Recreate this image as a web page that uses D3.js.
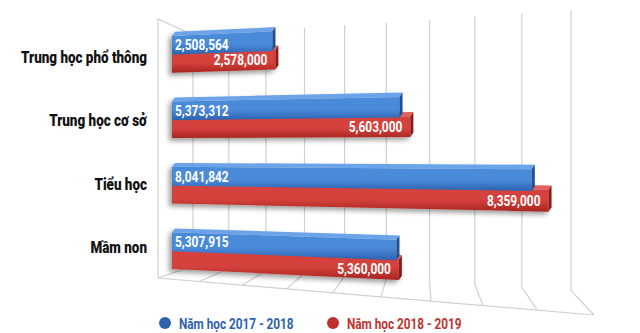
<!DOCTYPE html>
<html><head><meta charset="utf-8">
<script src="https://cdn.jsdelivr.net/npm/d3@7"></script>
<style>body{margin:0;background:#fff} svg{display:block}</style>
</head><body><svg id="c" width="640" height="333"></svg>
<script>
// ---- data ----
const categories = ["Trung học phổ thông", "Trung học cơ sở", "Tiểu học", "Mầm non"];
const seriesNames = ["Năm học 2017 - 2018", "Năm học 2018 - 2019"];
const values2017 = [2508564, 5373312, 8041842, 5307915];
const values2018 = [2578000, 5603000, 8359000, 5360000];
const gridTicks = [0, 1e6, 2e6, 3e6, 4e6, 5e6, 6e6, 7e6, 8e6, 9e6];

// ---- layout ----
const svg = d3.select("#c");
const FONT = "'Roboto', sans-serif";
const fmt = d3.format(",");
const colors = {
  blue: {top: "#6aa3e8", f1: "#4a8ad9", f2: "#2c62b0", side: "#214f92", legend: "#2d62ad"},
  red:  {top: "#e0625b", f1: "#d5423c", f2: "#a82520", side: "#8c1d1a", legend: "#bf312d"}
};
// emulate a condensed typeface
function condense(sel, k) {
  sel.each(function () {
    const w = this.getComputedTextLength();
    d3.select(this).attr("textLength", w * k).attr("lengthAdjust", "spacingAndGlyphs");
  });
}

// perspective helpers (camera looks from the left)
const u = d3.scaleLinear().domain([0, 9e6]).range([0, 1]);
const persp = t => t / (1 + 0.195 * (1 - t));
const backTicks = d3.range(0, 9e6 + 1, 2.5e5);
const xBack = d3.scaleLinear().domain(backTicks).range(backTicks.map(v => 193 + 378 * persp(u(v))));
const xBar  = d3.scaleLinear().domain(backTicks).range(backTicks.map(v => 172 + 411 * persp(u(v))));
const xFront = d3.scaleLinear().domain([193, 571]).range([158, 594]);
const y = d3.scaleBand().domain(categories).range([20, 284]).paddingInner(0).paddingOuter(0);
const yLabel = d3.scaleBand().domain(categories).range([25, 279]).paddingInner(0).paddingOuter(0);

const H = 150;
const fBack = x => 1 + (x - 193) * 0.00056;
const fBar = x => 1 + (x - 193) * 0.0004;
const pb = (x, yy) => [x, H + (yy - H) * fBar(x)];

const defs = svg.append("defs");
["blue", "red"].forEach(k => {
  const g = defs.append("linearGradient").attr("id", "g-" + k).attr("x1", 0).attr("y1", 0).attr("x2", 0).attr("y2", 1);
  g.append("stop").attr("offset", "0%").attr("stop-color", colors[k].f1);
  g.append("stop").attr("offset", "55%").attr("stop-color", colors[k].f1);
  g.append("stop").attr("offset", "100%").attr("stop-color", colors[k].f2);
});
const sh = defs.append("filter").attr("id", "sh").attr("x", "-10%").attr("y", "-40%").attr("width", "120%").attr("height", "190%");
sh.append("feDropShadow").attr("dx", -3).attr("dy", 3).attr("stdDeviation", 2.5).attr("flood-color", "#000").attr("flood-opacity", 0.38);

// ---- walls / grid ----
const grid = svg.append("g").attr("stroke", "#d0d0d0").attr("stroke-width", 1.2).attr("fill", "none");
const backTop = x => H - 115 * fBack(x);
const backBot = x => H + 116 * fBack(x);
const frontY = x => 278 + (x - 158) * (37 / 436);
gridTicks.forEach(v => {
  const xb = xBack(v);
  const xf = xFront(xb);
  grid.append("path").attr("d", d3.line()([[xb, backTop(xb)], [xb, backBot(xb)], [xf, frontY(xf)]]));
});
const xl = xFront(xBack(0));
grid.append("path").attr("d", d3.line()([[xBack(0), backTop(xBack(0))], [xl, 19], [xl, frontY(xl)]]));
grid.append("path").attr("d", d3.line()([[xl, frontY(xl)], [xFront(xBack(9e6)), frontY(xFront(xBack(9e6)))]]));

// ---- bars ----
const dx = 3, dy = 4, bh = 19;
function bar(g, x0, x1, yt, yb, c) {
  const poly = pts => "M" + pts.map(p => p.join(",")).join("L") + "Z";
  g.append("path").attr("d", poly([pb(x0, yt), pb(x1, yt), pb(x1, yb), pb(x0, yb)])).attr("fill", "url(#g-" + c + ")");
  g.append("path").attr("d", poly([pb(x0, yt), pb(x0 + dx, yt - dy), pb(x1 + dx, yt - dy), pb(x1, yt)])).attr("fill", colors[c].top);
  g.append("path").attr("d", poly([pb(x1, yt), pb(x1 + dx, yt - dy), pb(x1 + dx, yb - dy), pb(x1, yb)])).attr("fill", colors[c].side);
}
const bars = svg.append("g");
categories.forEach((cat, i) => {
  const cy = y(cat) + y.bandwidth() / 2;
  const g = bars.append("g").attr("filter", "url(#sh)");
  const x0 = xBar(0);
  bar(g, x0, xBar(values2018[i]), cy, cy + bh, "red");
  bar(g, x0, xBar(values2017[i]), cy - bh + 1, cy + 1, "blue");
});
// value labels
const vl = svg.append("g").attr("fill", "#fff").attr("font-family", FONT).attr("font-weight", "bold").attr("font-size", 14.5);
categories.forEach((cat, i) => {
  const cy = y(cat) + y.bandwidth() / 2;
  const x0 = xBar(0), xr = xBar(values2018[i]);
  const pB = pb(x0 + 3, cy - bh / 2 + 1);
  vl.append("text").attr("x", pB[0]).attr("y", pB[1]).attr("dy", "0.36em").text(fmt(values2017[i]));
  const pR = pb(xr - 8, cy + bh / 2);
  vl.append("text").attr("x", pR[0]).attr("y", pR[1]).attr("dy", "0.36em").attr("text-anchor", "end").text(fmt(values2018[i]));
});
condense(vl.selectAll("text"), 0.82);

// ---- category labels ----
const cl = svg.append("g").selectAll("text").data(categories).join("text")
  .attr("x", 147).attr("y", d => yLabel(d) + yLabel.bandwidth() / 2).attr("dy", "0.36em").attr("text-anchor", "end")
  .attr("font-family", FONT).attr("font-weight", "900").attr("font-size", 16).attr("fill", "#111")
  .text(d => d);
condense(cl, 0.84);

// ---- legend ----
const leg = svg.append("g");
[["blue", 165], ["red", 333]].forEach(([k, lx], i) => {
  leg.append("circle").attr("cx", lx).attr("cy", 323).attr("r", 6).attr("fill", colors[k].legend);
  leg.append("text").attr("x", lx + 14).attr("y", 323).attr("dy", "0.36em")
    .attr("font-family", FONT).attr("font-weight", "bold").attr("font-size", 15.5).attr("fill", colors[k].legend)
    .text(seriesNames[i]);
});
condense(leg.selectAll("text"), 0.76);
</script></body></html>
